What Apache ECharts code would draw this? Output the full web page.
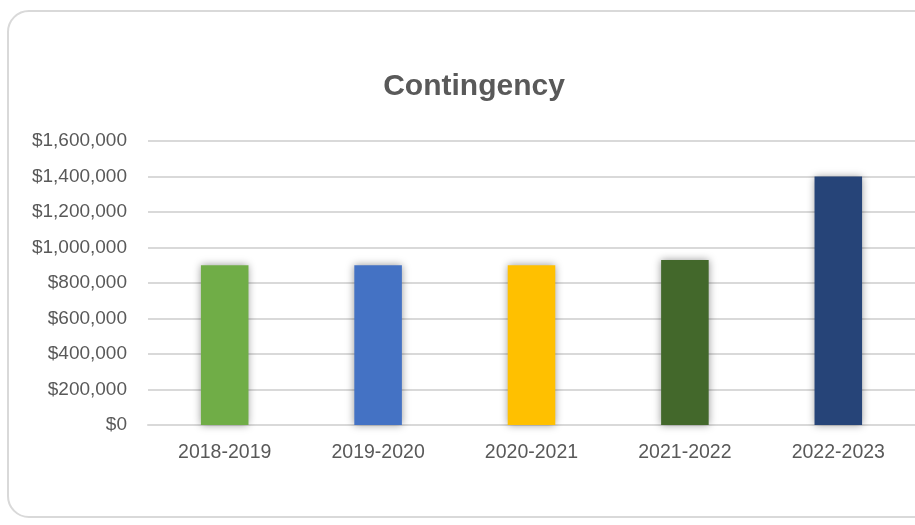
<!DOCTYPE html>
<html>
<head>
<meta charset="utf-8">
<script src="https://cdn.jsdelivr.net/npm/echarts@6/dist/echarts.min.js"></script>
<style>
  html, body { margin: 0; padding: 0; background: #ffffff; }
  #wrap { position: relative; width: 915px; height: 525px; overflow: hidden; }
  #card {
    position: absolute; left: 7px; top: 10px; width: 940px; height: 508px;
    border: 2px solid #d9d9d9; border-radius: 22px; box-sizing: border-box;
  }
  #chart { position: absolute; left: 0; top: 0; width: 915px; height: 525px; }
</style>
</head>
<body>
<div id="wrap">
  <div id="card"></div>
  <div id="chart"></div>
</div>
<script>
// Fiscal years and contingency amounts (USD)
const years = ['2018-2019', '2019-2020', '2020-2021', '2021-2022', '2022-2023'];
const contingency = [900000, 900000, 900000, 930000, 1400000];
const barColors = ['#70AD47', '#4472C4', '#FFC000', '#43682B', '#264478'];
const axisMin = 0;
const axisMax = 1600000;
const axisStep = 200000;

const fontFam = "'Liberation Sans Narrow', 'Arial Narrow', 'Liberation Sans', sans-serif";

const chart = echarts.init(document.getElementById('chart'), null, { renderer: 'canvas' });

chart.setOption({
  animation: false,
  title: {
    text: 'Contingency',
    left: 469, top: 67, textAlign: 'center',
    textStyle: { fontFamily: fontFam, fontSize: 30, fontWeight: 'bold', color: '#595959' }
  },
  grid: { left: 148, right: -1, top: 141, bottom: 100, containLabel: false },
  xAxis: {
    type: 'category',
    data: years,
    axisLine: { show: true, lineStyle: { color: '#d9d9d9', width: 2 } },
    axisTick: { show: false },
    axisLabel: { color: '#595959', fontFamily: fontFam, fontSize: 19.5, margin: 18 }
  },
  yAxis: {
    type: 'value',
    min: axisMin, max: axisMax, interval: axisStep,
    axisLine: { show: false },
    axisTick: { show: false },
    splitLine: { lineStyle: { color: '#d9d9d9', width: 2 } },
    axisLabel: {
      color: '#595959', fontFamily: fontFam, fontSize: 19, margin: 21,
      formatter: v => '$' + v.toLocaleString('en-US')
    }
  },
  series: [{
    type: 'bar',
    data: contingency.map((v, i) => ({ value: v, itemStyle: { color: barColors[i] } })),
    barWidth: '31%',
    itemStyle: { shadowBlur: 8, shadowColor: 'rgba(0,0,0,0.4)', shadowOffsetX: 0, shadowOffsetY: 0 }
  }]
});
</script>
</body>
</html>
